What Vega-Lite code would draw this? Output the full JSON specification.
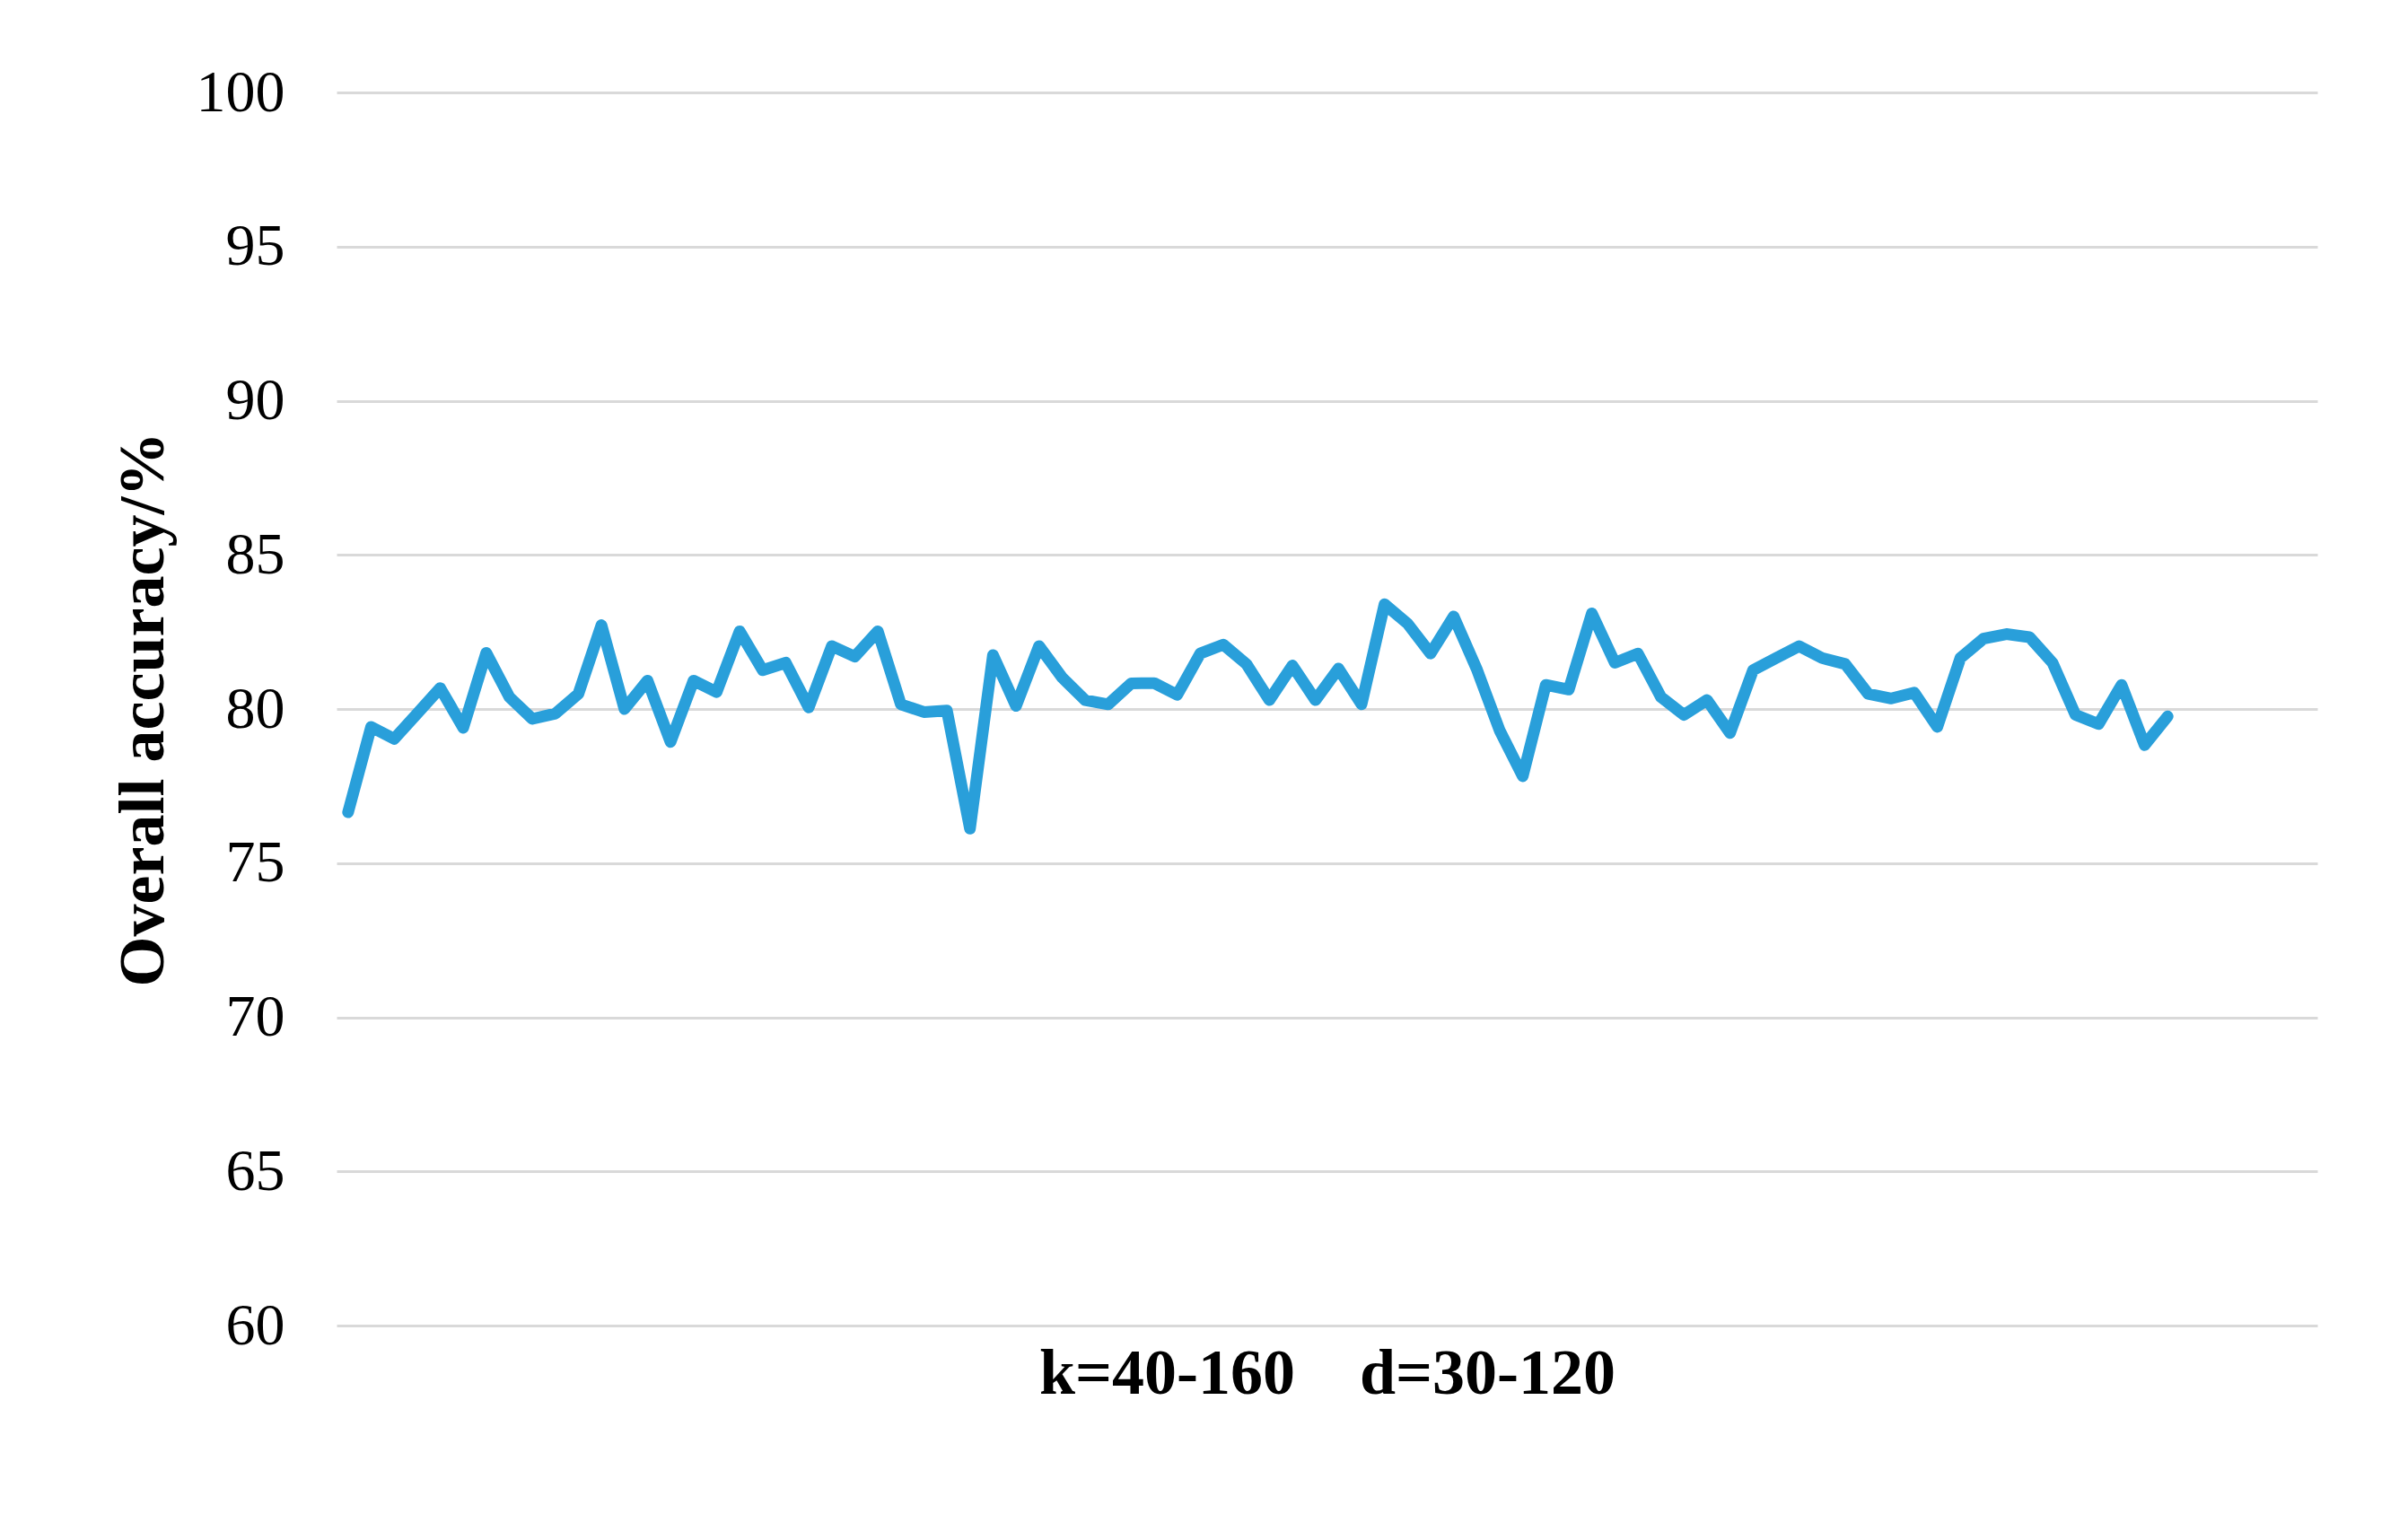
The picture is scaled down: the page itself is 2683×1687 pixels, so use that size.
{
  "$schema": "https://vega.github.io/schema/vega-lite/v6.json",
  "autosize": "none",
  "width": 2207,
  "height": 1374,
  "padding": {"left": 375, "top": 103, "right": 101, "bottom": 210},
  "background": "white",
  "config": {"view": {"stroke": null}},
  "data": {"values": [
    {"i": 1, "acc": 76.65}, {"i": 2, "acc": 79.42}, {"i": 3, "acc": 79.03}, {"i": 4, "acc": 79.85},
    {"i": 5, "acc": 80.68}, {"i": 6, "acc": 79.39}, {"i": 7, "acc": 81.82}, {"i": 8, "acc": 80.39},
    {"i": 9, "acc": 79.68}, {"i": 10, "acc": 79.85}, {"i": 11, "acc": 80.49}, {"i": 12, "acc": 82.72},
    {"i": 13, "acc": 80.0}, {"i": 14, "acc": 80.92}, {"i": 15, "acc": 78.93}, {"i": 16, "acc": 80.92},
    {"i": 17, "acc": 80.55}, {"i": 18, "acc": 82.52}, {"i": 19, "acc": 81.26}, {"i": 20, "acc": 81.5},
    {"i": 21, "acc": 80.05}, {"i": 22, "acc": 82.04}, {"i": 23, "acc": 81.7}, {"i": 24, "acc": 82.52},
    {"i": 25, "acc": 80.15}, {"i": 26, "acc": 79.9}, {"i": 27, "acc": 79.95}, {"i": 28, "acc": 76.12},
    {"i": 29, "acc": 81.75}, {"i": 30, "acc": 80.1}, {"i": 31, "acc": 82.04}, {"i": 32, "acc": 81.02},
    {"i": 33, "acc": 80.29}, {"i": 34, "acc": 80.15}, {"i": 35, "acc": 80.83}, {"i": 36, "acc": 80.84},
    {"i": 37, "acc": 80.46}, {"i": 38, "acc": 81.8}, {"i": 39, "acc": 82.09}, {"i": 40, "acc": 81.46},
    {"i": 41, "acc": 80.29}, {"i": 42, "acc": 81.41}, {"i": 43, "acc": 80.29}, {"i": 44, "acc": 81.31},
    {"i": 45, "acc": 80.15}, {"i": 46, "acc": 83.4}, {"i": 47, "acc": 82.77}, {"i": 48, "acc": 81.8},
    {"i": 49, "acc": 83.0}, {"i": 50, "acc": 81.3}, {"i": 51, "acc": 79.3}, {"i": 52, "acc": 77.82},
    {"i": 53, "acc": 80.78}, {"i": 54, "acc": 80.63}, {"i": 55, "acc": 83.1}, {"i": 56, "acc": 81.5},
    {"i": 57, "acc": 81.8}, {"i": 58, "acc": 80.39}, {"i": 59, "acc": 79.81}, {"i": 60, "acc": 80.29},
    {"i": 61, "acc": 79.22}, {"i": 62, "acc": 81.26}, {"i": 63, "acc": 81.65}, {"i": 64, "acc": 82.04},
    {"i": 65, "acc": 81.65}, {"i": 66, "acc": 81.46}, {"i": 67, "acc": 80.49}, {"i": 68, "acc": 80.34},
    {"i": 69, "acc": 80.53}, {"i": 70, "acc": 79.42}, {"i": 71, "acc": 81.65}, {"i": 72, "acc": 82.28},
    {"i": 73, "acc": 82.43}, {"i": 74, "acc": 82.33}, {"i": 75, "acc": 81.5}, {"i": 76, "acc": 79.81},
    {"i": 77, "acc": 79.51}, {"i": 78, "acc": 80.78}, {"i": 79, "acc": 78.83}, {"i": 80, "acc": 79.76}
  ]},
  "mark": {"type": "line", "color": "#299FDA", "strokeWidth": 13, "strokeJoin": "round", "strokeCap": "round"},
  "encoding": {
    "x": {
      "field": "i", "type": "quantitative",
      "scale": {"domain": [0.5, 86.5], "nice": false, "zero": false},
      "axis": {
        "title": "k=40-160\u00a0\u00a0\u00a0\u00a0d=30-120",
        "labels": false, "ticks": false, "domain": false, "grid": false,
        "titleFont": "Liberation Serif", "titleFontSize": 72, "titleFontWeight": "bold",
        "titleColor": "black", "titlePadding": 18
      }
    },
    "y": {
      "field": "acc", "type": "quantitative",
      "scale": {"domain": [60, 100], "nice": false, "zero": false},
      "axis": {
        "title": "Overall accuracy/%",
        "values": [60, 65, 70, 75, 80, 85, 90, 95, 100],
        "domain": false, "ticks": false, "grid": true,
        "gridColor": "#d9d9d9", "gridWidth": 3,
        "labelFont": "Liberation Serif", "labelFontSize": 66, "labelColor": "black",
        "labelPadding": 58,
        "titleFont": "Liberation Serif", "titleFontSize": 72, "titleFontWeight": "bold",
        "titleColor": "black", "titlePadding": 22
      }
    }
  }
}
